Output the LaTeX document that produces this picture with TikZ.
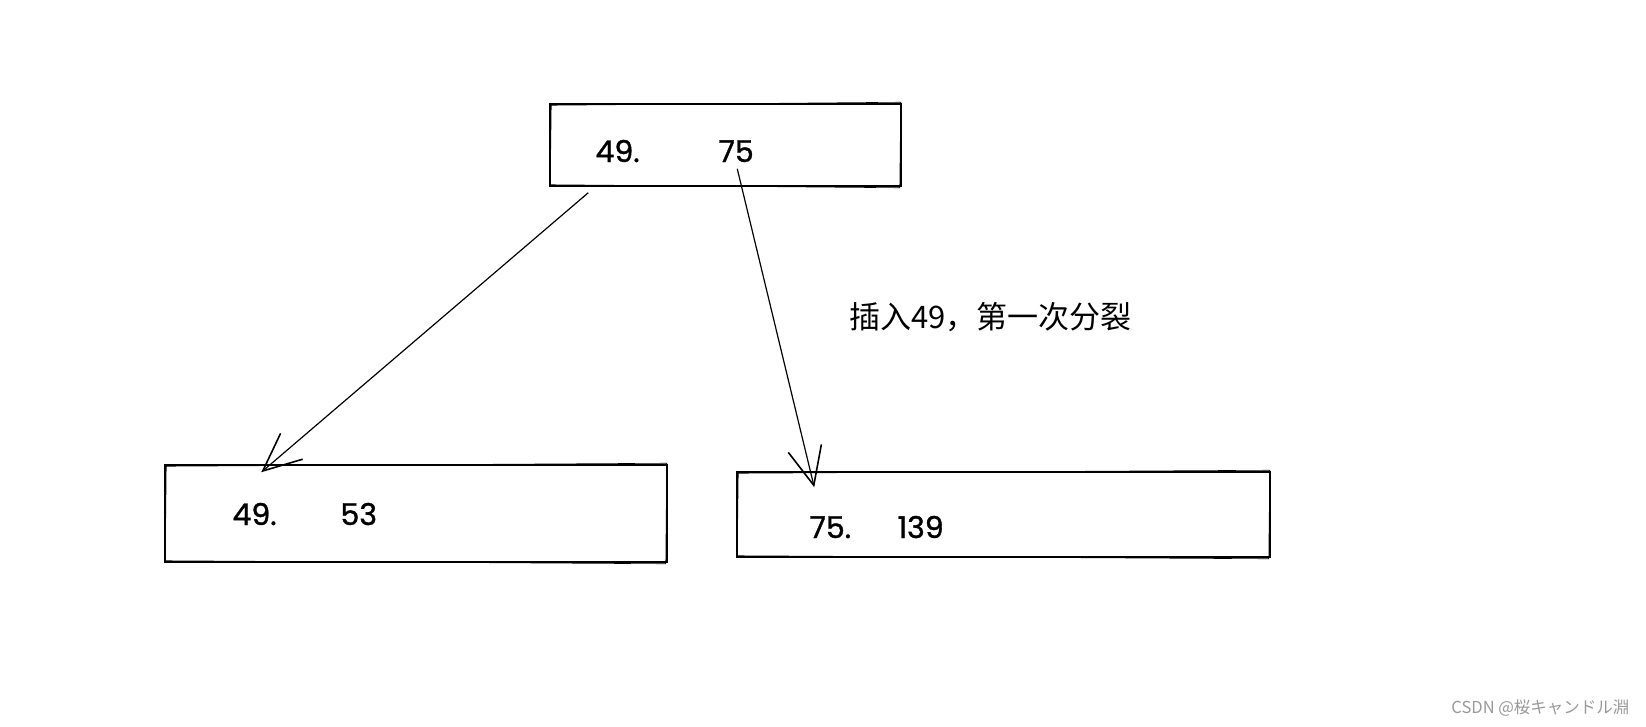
\documentclass[tikz,border=0pt]{standalone}
\usepackage{fontspec}
\setmainfont{Poppins}
\newfontfamily\numfont{Poppins}[FakeBold=1.2]
\newfontfamily\cjk{Noto Sans CJK SC}
\usetikzlibrary{arrows.meta,calc}
\begin{document}
\begin{tikzpicture}[x=1pt,y=-1pt,
		box/.style={draw,line width=1.5pt,inner sep=0pt},
		num/.style={anchor=base west,font=\numfont\fontsize{30}{30}\selectfont},
		arr/.style={line width=1.2pt,-{Straight Barb[length=38pt,width=34pt,line width=1.6pt]}}]
		\useasboundingbox (0,0) rectangle (1646,726);
		
		% boxes
		\node[box,minimum width=351pt,minimum height=82pt] (top) at (725.5,145) {};
		\node[box,minimum width=502pt,minimum height=97pt] (left) at (416,513.5) {};
		\node[box,minimum width=533pt,minimum height=85pt] (right) at (1003.5,514.5) {};
		\foreach \b in {top,left,right}
			\draw[line width=0.6pt] ($(\b.north west)+(2,2)$) -- ($(\b.north east)+(-1,-1)$) -- ($(\b.south east)+(-2,1)$) -- ($(\b.south west)+(1,-2)$) -- cycle;
		
		% keys
		\node[num] (t1) at (592,162) {49.};
		\node[num] (t2) at (715,162) {75};
		\node[num] (l1) at (229,525) {49.};
		\node[num] (l2) at (337,525) {53};
		\node[num] (r1) at (806,538) {75.};
		\node[num] (r2) at (894,538) {139};
		
		% split arrows
		\draw[arr] ($(top.south west)+(39,6)$) -- ($(left.north west)+(97,8)$);
		\draw[arr] ($(top.south west)+(188,-18)$) -- ($(right.north west)+(78,16)$);
		
		\node[anchor=west,font=\cjk\fontsize{31}{31}\selectfont] (note) at (846,317) {插入49，第一次分裂};
		\node[anchor=east,text=black!40,font=\cjk\fontsize{16.5}{16.5}\selectfont] (mark) at (1633,708) {CSDN @桜キャンドル淵};
	\end{tikzpicture}
\end{document}
